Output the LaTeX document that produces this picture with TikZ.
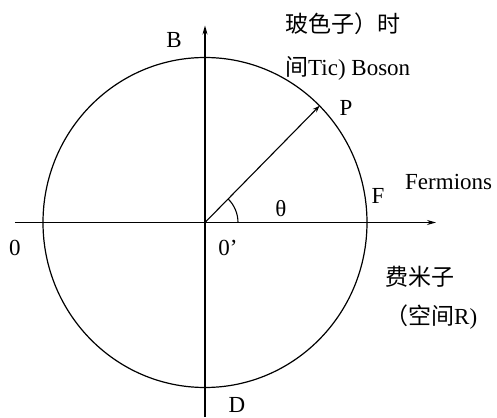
\documentclass[tikz,border=0pt]{standalone}
\usepackage{fontspec}
\setmainfont{Liberation Serif}
\newfontfamily\cjk{Noto Sans CJK SC}
\usetikzlibrary{arrows.meta}
\tikzset{
  axisline/.style={
    line width=1.2pt, -{Stealth[length=9pt, width=5pt]}
  },
  rimline/.style={
    line width=1.2pt
  },
  radline/.style={
    line width=1.1pt, -{Stealth[length=7pt, width=5pt]}
  },
  lbl/.style={
    inner sep=0pt, font=\fontsize{23}{28}\selectfont
  }
}

\begin{document}
\begin{tikzpicture}[x=1pt, y=1pt]

  % ── Frame ───────────────────────────────────────────────────
  \useasboundingbox (-205,-194.5) rectangle (292,222.5);

  % ── Points ──────────────────────────────────────────────────
  \coordinate (O)      at (0,0);
  \coordinate (xstart) at (-190,0);
  \coordinate (xend)   at (231,0);
  \coordinate (ystart) at (0,-194.5);
  \coordinate (yend)   at (0,197);
  \coordinate (Ppt)    at (45:162 and 165);

  % ── Circle and axes ─────────────────────────────────────────
  \draw[rimline] (O) ellipse (162 and 165);
  \draw[axisline] (xstart) -- (xend);
  \draw[axisline] (ystart) -- (yend);

  % ── Radius and angle ────────────────────────────────────────
  \draw[radline] (O) -- (Ppt);
  \draw[line width=1.1pt] (33,0) arc (0:45:33);

  % ── Labels ──────────────────────────────────────────────────
  \node[lbl] (B)     at (-31,182.5)  {B};
  \node[lbl] (P)     at (141,114.5)  {P};
  \node[lbl] (F)     at (173,26.5)   {F};
  \node[lbl] (zero)  at (-190,-25.5) {0};
  \node[lbl] (orig)  at (23,-25.5)   {0’};
  \node[lbl] (theta) at (76,13.5)    {θ};
  \node[lbl] (D)     at (32,-182)    {D};

  \node[lbl, anchor=base west] (fer)   at (200,32.5)   {Fermions};
  \node[lbl, anchor=base west] (bos1)  at (80,189.5)   {\cjk 玻色子）时};
  \node[lbl, anchor=base west] (bos2)  at (80,146.5)   {{\cjk 间}Tic) Boson};
  \node[lbl, anchor=base west] (fer1)  at (180,-62.5)  {\cjk 费米子};
  \node[lbl, anchor=base west] (fer2)  at (180,-101.5) {{\cjk （空间}R)};

\end{tikzpicture}
\end{document}
